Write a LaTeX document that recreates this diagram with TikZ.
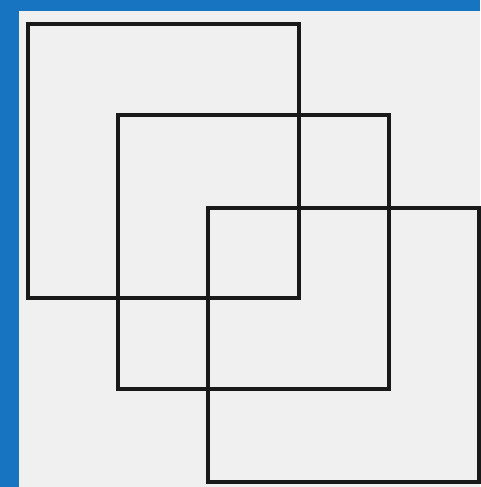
\documentclass[tikz,border=0pt]{standalone}
\definecolor{backblue}{RGB}{22,116,192}
\definecolor{paper}{RGB}{239,240,239}
\definecolor{ink}{RGB}{25,25,25}
\begin{document}
\begin{tikzpicture}[x=1pt, y=-1pt, line width=3.3pt, line join=miter]
    \def\W{271}
    \def\H{274}
    % Background
    \fill[backblue] (0,0) rectangle (480,487);
    \fill[paper] (19,11) rectangle (480,487);
    \useasboundingbox (0,0) rectangle (480,487);

    % Overlapping squares
    \foreach \x/\y in {28/24, 118/115, 208/208} {
        \draw[ink] (\x, \y) rectangle ++(\W, \H);
    }
\end{tikzpicture}
\end{document}
